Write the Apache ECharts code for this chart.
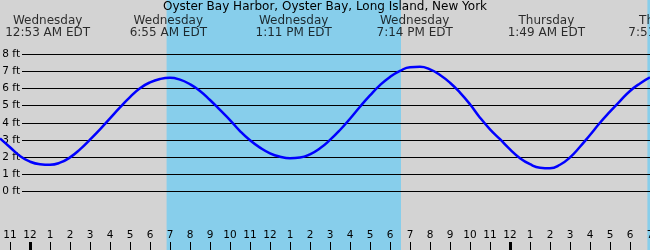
<!DOCTYPE html>
<html><head><meta charset="utf-8">
<script src="https://cdn.jsdelivr.net/npm/echarts@6/dist/echarts.min.js"></script>
<style>html,body{margin:0;padding:0;background:#d3d3d3}#c{width:650px;height:250px}</style>
</head><body><div id="c"></div>
<script>
// hours since Wednesday 00:00 EDT
const hours = [-1.5,-1,-0.5,0,0.5,1,1.5,2,2.5,3,3.5,4,4.5,5,5.5,6,6.5,7,7.5,8,8.5,9,9.5,10,10.5,11,11.5,12,12.5,13,13.5,14,14.5,15,15.5,16,16.5,17,17.5,18,18.5,19,19.5,20,20.5,21,21.5,22,22.5,23,23.5,24,24.5,25,25.5,26,26.5,27,27.5,28,28.5,29,29.5,30,30.5,31];
const heightFt = [3.09,2.57,2.06,1.73,1.58,1.55,1.67,1.98,2.45,3.02,3.62,4.26,4.9,5.5,6.02,6.36,6.56,6.63,6.52,6.25,5.86,5.33,4.75,4.16,3.52,2.98,2.55,2.22,2.02,1.93,1.97,2.16,2.51,3.0,3.58,4.24,4.94,5.6,6.2,6.68,7.03,7.25,7.27,7.12,6.79,6.34,5.76,5.08,4.3,3.62,3.04,2.45,1.93,1.58,1.38,1.35,1.55,1.98,2.6,3.29,4.0,4.65,5.27,5.86,6.3,6.65];
const extremeHours = [0.883, 6.917, 13.183, 19.233, 25.817, 31.85];
const extremeDays = ['Wednesday','Wednesday','Wednesday','Wednesday','Thursday','Thursday'];
const extremeTimes = ['12:53 AM EDT','6:55 AM EDT','1:11 PM EDT','7:14 PM EDT','1:49 AM EDT','7:51 AM EDT'];
const daylight = [[6.83, 18.55], [30.87, 31]];
const tickHours = [-1,0,1,2,3,4,5,6,7,8,9,10,11,12,13,14,15,16,17,18,19,20,21,22,23,24,25,26,27,28,29,30,31];
const midnightHours = [0, 24];
const title = 'Oyster Bay Harbor, Oyster Bay, Long Island, New York';

const FONT = 'DejaVu Sans';
const X_MIN = -1.5, X_MAX = 31;
const PLOT_TOP = 54.3, PLOT_BOTTOM = 58.7;

const chart = echarts.init(document.getElementById('c'), null, {renderer: 'canvas'});
chart.setOption({
  animation: false,
  backgroundColor: '#d3d3d3',
  textStyle: {fontFamily: FONT},
  title: {text: title, left: 'center', top: 1, padding: 0,
    textStyle: {fontFamily: FONT, fontSize: 12, fontWeight: 'normal', color: '#000'}},
  grid: [
    {left: 0, right: 0, top: 0, bottom: 0, outerBoundsMode: 'none', containLabel: false},
    {left: 22, right: 0, top: PLOT_TOP, bottom: PLOT_BOTTOM, outerBoundsMode: 'none', containLabel: false},
    {left: 0, right: 0, top: PLOT_TOP, bottom: PLOT_BOTTOM, outerBoundsMode: 'none', containLabel: false}
  ],
  xAxis: [
    {type: 'value', gridIndex: 0, min: X_MIN, max: X_MAX, position: 'bottom', z: 3,
      axisLine: {show: false}, splitLine: {show: false},
      axisTick: {show: true, inside: true, length: 8, customValues: tickHours, lineStyle: {color: '#000', width: 1}},
      axisLabel: {show: true, inside: true, margin: 9, customValues: tickHours, color: '#000', fontSize: 10.5, fontFamily: FONT,
        hideOverlap: false, showMinLabel: true, showMaxLabel: true,
        formatter: v => String((((Math.round(v)) % 12) + 12) % 12 || 12)}},
    {type: 'value', gridIndex: 0, min: X_MIN, max: X_MAX, position: 'bottom', z: 3,
      axisLine: {show: false}, splitLine: {show: false}, axisLabel: {show: false},
      axisTick: {show: true, inside: true, length: 8, customValues: midnightHours, lineStyle: {color: '#000', width: 3}}},
    {type: 'value', gridIndex: 1, min: 0, max: 1, show: false},
    {type: 'value', gridIndex: 2, min: X_MIN, max: X_MAX, show: false}
  ],
  yAxis: [
    {type: 'value', gridIndex: 0, min: 0, max: 1, show: false},
    {type: 'value', gridIndex: 1, min: 0, max: 8, interval: 1, z: 3,
      axisLine: {show: false}, axisTick: {show: false},
      splitLine: {show: true, lineStyle: {color: '#000', width: 1}},
      axisLabel: {margin: 2, color: '#000', fontSize: 10.5, fontFamily: FONT, formatter: '{value} ft'}},
    {type: 'value', gridIndex: 2, min: 0, max: 8, show: false}
  ],
  series: [
    {type: 'line', xAxisIndex: 0, yAxisIndex: 0, data: [], z: 1, silent: true,
      markArea: {silent: true, itemStyle: {color: '#87ceeb', opacity: 1},
        data: daylight.map(d => [{xAxis: d[0]}, {xAxis: d[1]}])}},
    {type: 'scatter', xAxisIndex: 0, yAxisIndex: 0, z: 6, clip: false, symbolSize: 0,
      data: extremeHours.map((h, i) => [h, 1, extremeDays[i], extremeTimes[i]]),
      label: {show: true, position: 'inside', offset: [0, 27], color: '#000', fontSize: 12, fontFamily: FONT,
        lineHeight: 12, align: 'center',
        formatter: p => p.data[2] + '\n' + p.data[3]}},
    {type: 'line', xAxisIndex: 3, yAxisIndex: 2, z: 5, clip: false, smooth: true, symbol: 'none',
      lineStyle: {color: '#0000ff', width: 2.5},
      data: hours.map((h, i) => [h, heightFt[i]])}
  ]
});
</script></body></html>
